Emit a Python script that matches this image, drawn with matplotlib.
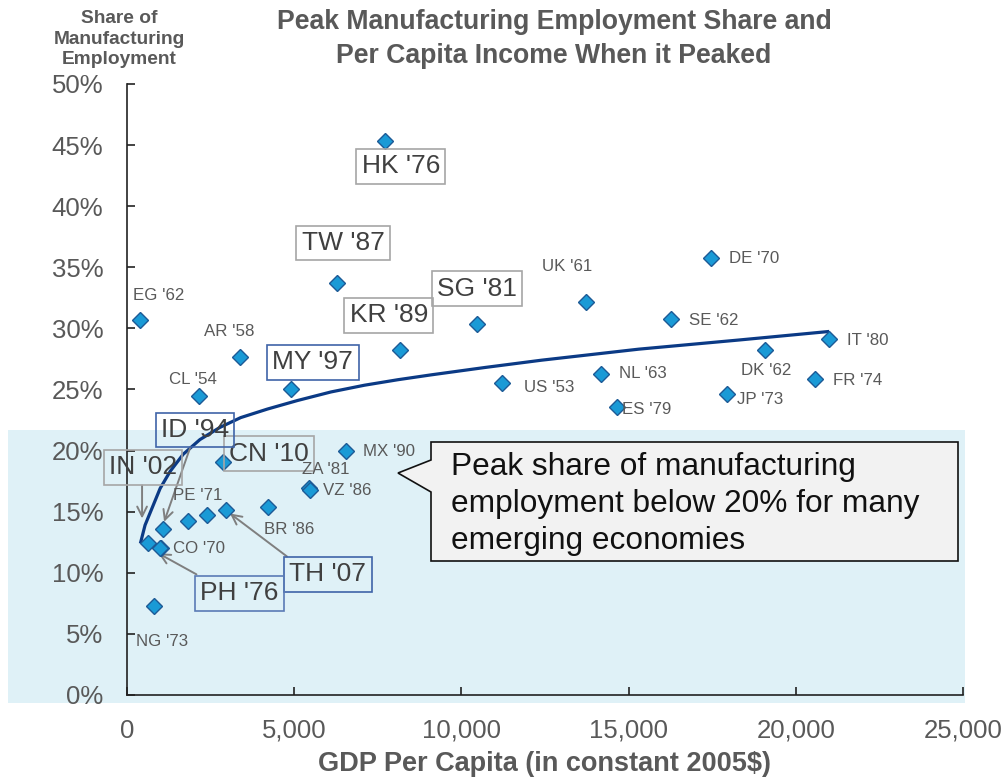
import numpy as np
import matplotlib
matplotlib.use("Agg")
from matplotlib import pyplot as plt
from matplotlib.patches import Rectangle, Polygon
from matplotlib.ticker import FuncFormatter

plt.rcParams['font.family'] = ['Liberation Sans', 'DejaVu Sans']

# ---------------- data ----------------
countries = ["EG '62", "AR '58", "CL '54", "MY '97", "TW '87", "HK '76", "KR '89", "SG '81",
             "US '53", "UK '61", "NL '63", "ES '79", "SE '62", "DE '70", "JP '73", "DK '62",
             "FR '74", "IT '80", "CN '10", "MX '90", "ZA '81", "VZ '86", "BR '86", "PE '71",
             "", "TH '07", "ID '94", "IN '02", "CO '70", "PH '76", "NG '73"]
gdp = [389, 3380, 2150, 4900, 6280, 7710, 8160, 10470,
       11210, 13730, 14180, 14650, 16260, 17460, 17940, 19080,
       20570, 20990, 2870, 6550, 5430, 5480, 4220, 1820,
       2390, 2960, 1080, 630, 1020, 1000, 810]
share = [30.7, 27.7, 24.5, 25.0, 33.7, 45.3, 28.2, 30.4,
         25.5, 32.2, 26.3, 23.6, 30.8, 35.8, 24.6, 28.2,
         25.9, 29.1, 19.1, 20.0, 16.9, 16.8, 15.4, 14.2,
         14.7, 15.1, 13.6, 12.4, 12.0, 12.0, 7.3]

# trend curve, read point by point
trend_x = [400, 540, 750, 990, 1290, 1680, 2180, 2780, 3400, 4200,
           5100, 6100, 7100, 8100, 9100, 10700, 12400, 15300, 18300, 21000]
trend_y = [12.4, 13.9, 15.3, 16.9, 18.3, 19.7, 20.9, 21.9, 22.7, 23.4,
           24.1, 24.8, 25.35, 25.8, 26.2, 26.8, 27.4, 28.3, 29.05, 29.75]

x_ticks = [0, 5000, 10000, 15000, 20000, 25000]
y_ticks = [0, 5, 10, 15, 20, 25, 30, 35, 40, 45, 50]

# ---------------- label layout (pixel offsets from the point) ----------------
small_pos = {
    "EG '62": (19, 24, 'center'), "AR '58": (-11, 25, 'center'), "CL '54": (-6, 16, 'center'),
    "UK '61": (-19, 35, 'center'), "DE '70": (18, -1, 'left'), "SE '62": (18, -2, 'left'),
    "IT '80": (18, -1, 'left'), "US '53": (22, -4, 'left'), "NL '63": (18, 0, 'left'),
    "ES '79": (5, -3, 'left'), "JP '73": (10, -5, 'left'), "DK '62": (1, -20, 'center'),
    "FR '74": (18, -2, 'left'), "MX '90": (17, -1, 'left'), "ZA '81": (-7, 19, 'left'),
    "VZ '86": (13, -1, 'left'), "BR '86": (21, -23, 'center'), "PE '71": (10, 26, 'center'),
    "CO '70": (12, 0, 'left'), "NG '73": (8, -36, 'center'),
}
boxed_pos = {
    "HK '76": (16, -25, '#a6a6a6'), "TW '87": (6, 40, '#a6a6a6'), "SG '81": (0, 35, '#a6a6a6'),
    "KR '89": (-11, 35, '#a6a6a6'), "MY '97": (22, 27, '#3f64a8'), "ID '94": (32, 99, '#3f64a8'),
    "CN '10": (46, 8, '#a6a6a6'), "IN '02": (-5, 76, '#a6a6a6'), "PH '76": (79, -45, '#5a7bb5'),
    "TH '07": (102, -64, '#3f64a8'),
}
# arrow tail / head offsets from the point
arrow_pos = {
    "IN '02": ((-6, 58), (-6, 25)), "ID '94": ((27, 81), (1, 7)),
    "PH '76": ((36, -26), (-2, -5)), "TH '07": ((61, -46), (4, -3)),
}

W, H = 1005, 779
fig = plt.figure(figsize=(W / 100, H / 100), dpi=100)
ax = fig.add_axes([127 / W, 84 / H, 836 / W, 611 / H])
ax.patch.set_visible(False)

# light blue band behind the emerging economies
fig.patches.append(Rectangle((8 / W, 76 / H), 957 / W, 273 / H, transform=fig.transFigure,
                             facecolor='#dff1f7', edgecolor='none', zorder=-5))

ax.set_xlim(0, 25000)
ax.set_ylim(0, 50)
ax.set_xticks(x_ticks)
ax.set_yticks(y_ticks)
ax.xaxis.set_major_formatter(FuncFormatter(lambda v, p: f'{v:,.0f}'))
ax.yaxis.set_major_formatter(FuncFormatter(lambda v, p: f'{v:.0f}%'))
for s in ['top', 'right']:
    ax.spines[s].set_visible(False)
for s in ['left', 'bottom']:
    ax.spines[s].set_linewidth(1.2)
    ax.spines[s].set_color('#222222')
ax.tick_params(axis='both', direction='in', length=6, width=1.2, color='#222222',
               labelsize=18.5, labelcolor='#595959')
ax.tick_params(axis='y', pad=17)
ax.tick_params(axis='x', pad=17)

ax.plot(trend_x, trend_y, color='#0b3a85', lw=2.3, zorder=3, solid_capstyle='butt')
ax.plot(gdp, share, 'D', ms=8, mfc='#1a9ad6', mec='#1d5a96', mew=1.0, zorder=5)


def shift(x, y, dx, dy):
    p = ax.transData.transform((x, y)) + np.array([dx, dy])
    return ax.transData.inverted().transform(p)


for name, x, y in zip(countries, gdp, share):
    if name in small_pos:
        dx, dy, ha = small_pos[name]
        ax.annotate(name, (x, y), xytext=(dx, dy), textcoords='offset pixels',
                    ha=ha, va='center', fontsize=12.2, color='#595959', zorder=6)
    if name in boxed_pos:
        dx, dy, ec = boxed_pos[name]
        ax.annotate(name, (x, y), xytext=(dx, dy), textcoords='offset pixels',
                    ha='center', va='center', fontsize=19, color='#404040', zorder=6,
                    bbox=dict(boxstyle='square,pad=0.2', fc='none', ec=ec, lw=1.2))
    if name in arrow_pos:
        (tx, ty), (hx, hy) = arrow_pos[name]
        ax.annotate('', xy=shift(x, y, hx, hy), xytext=shift(x, y, tx, ty),
                    arrowprops=dict(arrowstyle='->,head_length=0.7,head_width=0.35',
                                    color='#7f7f7f', lw=1.4, shrinkA=0, shrinkB=0), zorder=4)

# callout box
callout_px = [(431, 442), (958, 442), (958, 561), (431, 561), (431, 492), (398, 473), (431, 460)]
callout = Polygon([(px / W, 1 - py / H) for px, py in callout_px], closed=True,
                  transform=fig.transFigure, facecolor='#f2f2f2', edgecolor='#111111', lw=1.2, zorder=7)
fig.patches.append(callout)
fig.text(451 / W, 1 - 504 / H, 'Peak share of manufacturing\nemployment below 20% for many\nemerging economies',
         ha='left', va='center', fontsize=22.8, color='#111111', linespacing=1.32, zorder=8)

# titles
fig.text(554 / W, 1 - 39 / H, 'Peak Manufacturing Employment Share and\nPer Capita Income When it Peaked',
         ha='center', va='center', fontsize=19.2, fontweight='bold', color='#595959', linespacing=1.42)
fig.text(119 / W, 1 - 39 / H, 'Share of\nManufacturing\nEmployment', ha='center', va='center',
         fontsize=13.8, fontweight='bold', color='#595959', linespacing=1.25)
fig.text(545 / W, 1 - 764 / H, 'GDP Per Capita (in constant 2005$)', ha='center', va='center',
         fontsize=19.5, fontweight='bold', color='#595959')

fig.savefig('out.png', dpi=100)
